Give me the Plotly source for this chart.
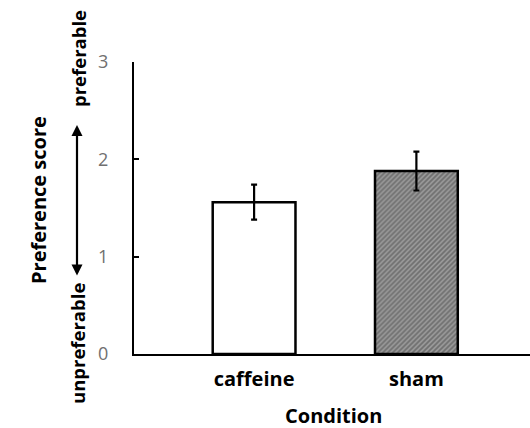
import plotly.graph_objects as go

categories = ["caffeine", "sham"]
means = [1.56, 1.88]
errors = [0.18, 0.20]
y_ticks = [0, 1, 2, 3]

fig = go.Figure()
fig.add_trace(go.Bar(
    x=categories, y=means,
    width=0.51,
    marker=dict(
        color=["white", "#9a9a9a"],
        line=dict(color="black", width=2.5),
        pattern=dict(shape=["", "/"], size=3.5, solidity=0.5,
                     fgcolor="#333333", bgcolor=["white", "#a8a8a8"], fillmode="overlay"),
    ),
    error_y=dict(type="data", array=errors, color="black", thickness=2.2, width=3),
))

fig.update_layout(
    width=530, height=428,
    margin=dict(l=134, r=0, t=62, b=74),
    plot_bgcolor="white", paper_bgcolor="white",
    showlegend=False,
    font=dict(family="Open Sans", color="black"),
    xaxis=dict(
        range=[-0.74, 1.70],
        showline=True, linecolor="black", linewidth=2,
        ticks="", tickfont=dict(size=20, family="Open Sans", weight="bold", color="black"),
        ticklabelstandoff=6,
        showgrid=False, zeroline=False,
    ),
    yaxis=dict(
        range=[0, 3], tickvals=y_ticks,
        showline=True, linecolor="black", linewidth=2,
        ticks="inside", ticklen=5, tickwidth=2, tickcolor="black",
        tickfont=dict(size=18, color="#707070"),
        ticklabelstandoff=20,
        showgrid=False, zeroline=False,
    ),
)

common = dict(xref="paper", yref="paper", showarrow=False,
              xanchor="center", yanchor="middle")
fig.add_annotation(text="<b>Condition</b>",
                   x=(333 - 134) / 396, y=(354 - 415) / 292,
                   font=dict(size=20, color="black"), **common)
fig.add_annotation(text="<b>Preference score</b>",
                   x=(38 - 134) / 396, y=(354 - 200) / 292, textangle=-90,
                   font=dict(size=20, color="black"), **common)
fig.add_annotation(text="<b>preferable</b>",
                   x=(78 - 134) / 396, y=(354 - 59) / 292, textangle=-90,
                   font=dict(size=18.5, color="black"), **common)
fig.add_annotation(text="<b>unpreferable</b>",
                   x=(77 - 134) / 396, y=(354 - 344) / 292, textangle=-90,
                   font=dict(size=18.5, color="black"), **common)
fig.add_annotation(text="", xref="paper", yref="paper",
                   x=(77 - 134) / 396, y=(354 - 125) / 292, ax=0, ay=152,
                   showarrow=True, arrowhead=2, startarrowhead=2, arrowside="end+start",
                   arrowsize=1, arrowwidth=2.2, arrowcolor="black")

fig.write_html("out.html", config={"displayModeBar": False},
               post_script="document.body.style.margin='0';")
